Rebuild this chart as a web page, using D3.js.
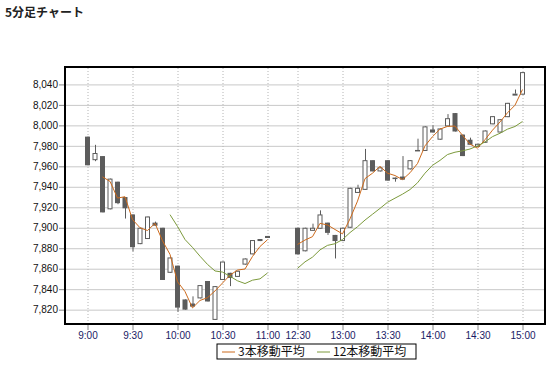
<!DOCTYPE html>
<html>
<head>
<meta charset="utf-8">
<script src="https://cdn.jsdelivr.net/npm/d3@7"></script>
<style>
  body { margin: 0; background: #fff; }
  svg { display: block; }
  .tick text { font-family: "Liberation Sans", Arial, sans-serif; font-size: 10px; }
</style>
</head>
<body>
<svg id="chart"></svg>
<script>
// 5-minute candles, morning session then afternoon session
const times = [
  "9:00","9:05","9:10","9:15","9:20","9:25","9:30","9:35","9:40","9:45","9:50","9:55",
  "10:00","10:05","10:10","10:15","10:20","10:25","10:30","10:35","10:40","10:45","10:50","10:55","11:00",
  "12:30","12:35","12:40","12:45","12:50","12:55","13:00","13:05","13:10","13:15","13:20","13:25",
  "13:30","13:35","13:40","13:45","13:50","13:55","14:00","14:05","14:10","14:15","14:20","14:25",
  "14:30","14:35","14:40","14:45","14:50","14:55","15:00"
];
const morningCount = 25;
const lunchSlots = ["lunch1", "lunch2", "lunch3"];

const open = [
  7989,7966,7970,7918,7945,7930,7913,7884,7889,7905,7900,7856,
  7863,7830,7826,7831,7848,7810,7849,7856,7852,7864,7874,7889,7892,
  7900,7877,7897,7899,7905,7893,7887,7900,7934,7937,7966,7955,
  7966,7949,7950,7957,7976,7975,7996,7986,7999,8012,7991,7986,
  7979,7983,8001,7993,8008,8031,8030
];
const high = [
  7989,7981,7970,7948,7945,7930,7913,7900,7911,7906,7900,7871,
  7863,7830,7833,7844,7848,7843,7867,7856,7858,7870,7888,7889,7892,
  7900,7900,7904,7917,7905,7893,7900,7939,7942,7977,7966,7959,
  7966,7949,7970,7966,7987,7999,8000,7997,8011,8012,7991,7988,
  7982,7995,8009,8006,8022,8035,8052
];
const low = [
  7961,7965,7915,7918,7923,7909,7877,7884,7889,7902,7849,7856,
  7818,7820,7823,7831,7828,7810,7849,7843,7852,7864,7874,7887,7890,
  7874,7877,7897,7899,7893,7870,7887,7900,7934,7937,7955,7955,
  7946,7945,7947,7957,7975,7975,7993,7986,7999,7994,7970,7981,
  7979,7983,8001,7993,8008,8031,8030
];
const close = [
  7961,7973,7915,7948,7924,7919,7881,7900,7911,7902,7849,7871,
  7822,7820,7823,7844,7828,7843,7867,7851,7858,7870,7888,7887,7890,
  7874,7900,7900,7913,7895,7887,7900,7939,7939,7966,7955,7959,
  7946,7948,7947,7966,7975,7999,7993,7997,8007,7994,7970,7981,
  7982,7995,8009,8006,8022,8031,8052
];

// moving averages as plotted
const ma3 = [
  null,null,7949.7,7945.3,7929,7930.3,7908,7900,7897.3,7904.3,7887.3,7874,
  7847.3,7837.7,7821.7,7829,7831.7,7838.3,7846,7853.7,7858.7,7859.7,7872,7881.7,7888.3,
  7883.7,7888,7891.3,7904.3,7902.7,7898.3,7894,7908.7,7926,7948,7953.3,7960,
  7953.3,7951,7947,7953.7,7962.7,7980,7989,7996.3,7999,7999.3,7990.3,7981.7,
  7977.7,7986,7995.3,8003.3,8012.3,8019.7,8035
];
const ma12 = [
  null,null,null,null,null,null,null,null,null,null,null,7912.8,
  7901.3,7888.5,7880.8,7872.2,7864.2,7857.8,7856.7,7852.6,7848.2,7845.5,7848.8,7850.1,7855.8,
  7860.3,7866.7,7871.3,7878.4,7882.8,7884.4,7888.5,7895.3,7901,7907.5,7913.2,7918.9,
  7924.9,7928.9,7932.8,7937.3,7943.9,7953.3,7961,7965.8,7971.5,7973.8,7975.1,7976.9,
  7979.9,7983.8,7989,7992.3,7996.3,7998.9,8003.8
];

const xTickLabels = ["9:00","9:30","10:00","10:30","11:00","12:30","13:00","13:30","14:00","14:30","15:00"];
const yTickValues = [7820,7840,7860,7880,7900,7920,7940,7960,7980,8000,8020,8040];
const seriesNames = ["3本移動平均", "12本移動平均"];
const seriesColors = ["#cc6a1c", "#7c9a3c"];

const W = 554, H = 365;
const plot = { left: 65, right: 545, top: 67, bottom: 324 };

const svg = d3.select("#chart").attr("width", W).attr("height", H);

svg.append("text")
  .attr("x", 5).attr("y", 17)
  .attr("font-family", "'Noto Sans CJK JP', sans-serif")
  .attr("font-weight", "bold")
  .attr("font-size", 12)
  .attr("fill", "#222")
  .text("5分足チャート");

const slots = times.slice(0, morningCount).concat(lunchSlots, times.slice(morningCount));

const x = d3.scalePoint()
  .domain(slots)
  .range([plot.left, plot.right])
  .padding(3);

const y = d3.scaleLinear()
  .domain([7806, 8057])
  .range([plot.bottom, plot.top]);

// grid
svg.append("g")
  .attr("transform", `translate(${plot.left},0)`)
  .call(d3.axisLeft(y).tickValues(yTickValues).tickSize(-(plot.right - plot.left)).tickFormat(""))
  .call(g => g.select(".domain").remove())
  .call(g => g.selectAll("line").attr("stroke", "#c8c8c8"));

svg.append("g")
  .attr("transform", `translate(0,${plot.bottom})`)
  .call(d3.axisBottom(x).tickValues(xTickLabels).tickSize(-(plot.bottom - plot.top)).tickFormat(""))
  .call(g => g.select(".domain").remove())
  .call(g => g.selectAll("line").attr("stroke", "#b4b4b4").attr("stroke-dasharray", "1,2"));

// axes
svg.append("g")
  .attr("transform", `translate(${plot.left},0)`)
  .call(d3.axisLeft(y).tickValues(yTickValues).tickSize(6).tickPadding(1).tickFormat(d3.format(",")))
  .call(g => g.select(".domain").remove())
  .call(g => g.selectAll("line").attr("stroke", "#888"))
  .call(g => g.selectAll("text").attr("fill", "#111"));

svg.append("g")
  .attr("transform", `translate(0,${plot.bottom})`)
  .call(d3.axisBottom(x).tickValues(xTickLabels).tickSize(6).tickPadding(2))
  .call(g => g.select(".domain").remove())
  .call(g => g.selectAll("line").attr("stroke", "#888"))
  .call(g => g.selectAll("text").attr("fill", "#1a1a66"));

// candles
const candles = times.map((t, i) => ({ t, o: open[i], h: high[i], l: low[i], c: close[i] }));
const bodyW = 5;

const cg = svg.append("g");
cg.selectAll("line.wick")
  .data(candles)
  .join("line")
  .attr("class", "wick")
  .attr("x1", d => x(d.t) + 0.5).attr("x2", d => x(d.t) + 0.5)
  .attr("y1", d => y(d.h)).attr("y2", d => y(d.l))
  .attr("stroke", "#5c5c5c");

cg.selectAll("rect.body")
  .data(candles)
  .join("rect")
  .attr("class", "body")
  .attr("x", d => d.c >= d.o ? x(d.t) - bodyW / 2 + 0.5 : x(d.t) - bodyW / 2)
  .attr("y", d => d.c >= d.o ? y(Math.max(d.o, d.c)) + 0.5 : y(Math.max(d.o, d.c)))
  .attr("width", d => d.c >= d.o ? bodyW - 1 : bodyW)
  .attr("height", d => Math.max(d.c >= d.o ? 1 : 1.5, y(Math.min(d.o, d.c)) - y(Math.max(d.o, d.c)) - (d.c >= d.o ? 1 : 0)))
  .attr("fill", d => d.c >= d.o ? "#fff" : "#5c5c5c")
  .attr("stroke", d => d.c >= d.o ? "#5c5c5c" : "none");

// moving average lines, one path per session
const line = d3.line()
  .defined(d => d.v != null)
  .x(d => x(d.t))
  .y(d => y(d.v));

[ma3, ma12].forEach((vals, k) => {
  const pts = times.map((t, i) => ({ t, v: vals[i] }));
  [pts.slice(0, morningCount), pts.slice(morningCount)].forEach(seg => {
    svg.append("path")
      .datum(seg)
      .attr("fill", "none")
      .attr("stroke", seriesColors[k])
      .attr("stroke-width", 1)
      .attr("d", line);
  });
});

// frame
svg.append("rect")
  .attr("x", plot.left).attr("y", plot.top)
  .attr("width", plot.right - plot.left).attr("height", plot.bottom - plot.top)
  .attr("fill", "none").attr("stroke", "#000").attr("stroke-width", 2);

// legend
const lg = svg.append("g").attr("transform", "translate(217,344)");
lg.append("rect").attr("width", 199).attr("height", 15)
  .attr("fill", "#fff").attr("stroke", "#000");
const legendX = [5, 100];
seriesNames.forEach((name, k) => {
  lg.append("line")
    .attr("x1", legendX[k]).attr("x2", legendX[k] + 13)
    .attr("y1", 8).attr("y2", 8)
    .attr("stroke", seriesColors[k]);
  lg.append("text")
    .attr("x", legendX[k] + 16).attr("y", 12)
    .attr("font-family", "'Noto Sans CJK JP', sans-serif")
    .attr("font-size", 12)
    .attr("fill", "#111")
    .text(name);
});
</script>
</body>
</html>
